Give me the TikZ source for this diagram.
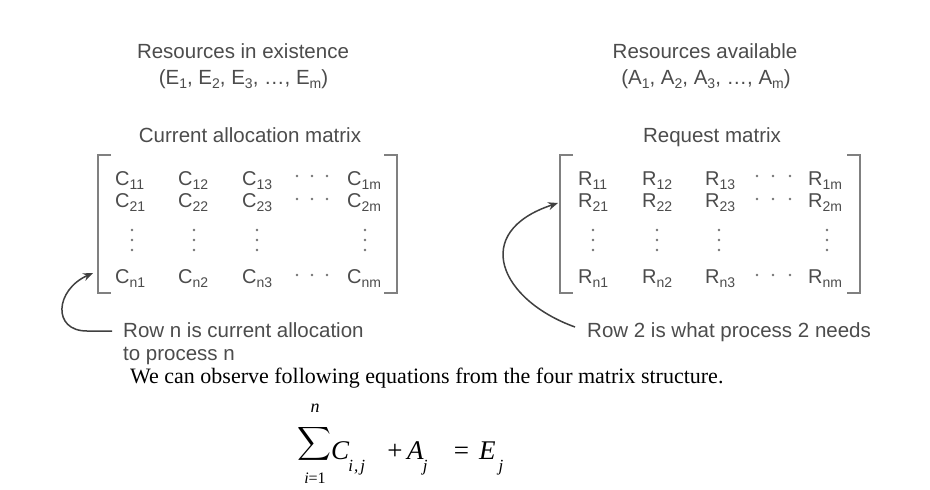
\documentclass[tikz,border=0pt]{standalone}
\usepackage{fontspec}
\usepackage{graphicx}
\setmainfont{Liberation Serif}
\newfontfamily\sansf{Liberation Sans}
\usetikzlibrary{arrows.meta}
\definecolor{txtgray}{gray}{0.30}
\newcommand{\lowsub}[1]{\raisebox{-4.5pt}{\fontsize{14}{14}\selectfont #1}}
\newcommand{\eqsub}[1]{\raisebox{-12pt}{\fontsize{17}{17}\selectfont\textit{#1}}}
\newcommand{\mentry}[4]{\node[ent] (#1) at (#2) {#3\lowsub{#4}};}
\begin{document}
\begin{tikzpicture}[x=1pt,y=-1pt,
  lbl/.style={font=\sansf\fontsize{20.5}{24}\selectfont, text=txtgray, inner sep=0},
  ent/.style={font=\sansf\fontsize{20}{22}\selectfont, text=txtgray, inner sep=0, anchor=base west},
  brk/.style={draw=black!50, line width=1.4pt},
  dotf/.style={fill=black!55},
  arr/.style={draw=black!75, line width=1.5pt, -{Stealth[length=10pt,width=8pt]}},
  eqt/.style={font=\fontsize{27}{29}\selectfont, inner sep=0, anchor=base west}]
\useasboundingbox (0,0) rectangle (930,490);
\fill[white] (0,0) rectangle (930,490);

% headings left
\node[lbl, anchor=base] (exist) at (243,58) {Resources in existence};
\node[lbl, anchor=base] (evec) at (243.5,84) {(E\lowsub{1}, E\lowsub{2}, E\lowsub{3}, \ldots, E\lowsub{m})};
\node[lbl, anchor=base] (cam) at (250,142) {Current allocation matrix};
% headings right
\node[lbl, anchor=base] (avail) at (705,58) {Resources available};
\node[lbl, anchor=base] (avec) at (706,84) {(A\lowsub{1}, A\lowsub{2}, A\lowsub{3}, \ldots, A\lowsub{m})};
\node[lbl, anchor=base] (req) at (712,142) {Request matrix};

% left matrix brackets
\draw[brk] (111,155) -- (98,155) -- (98,293) -- (111,293);
\draw[brk] (384,155) -- (397,155) -- (397,293) -- (384,293);
% right matrix brackets
\draw[brk] (573,155) -- (560,155) -- (560,293) -- (573,293);
\draw[brk] (847,155) -- (860,155) -- (860,293) -- (847,293);

% left matrix entries
\mentry{c11}{115,185}{C}{11}
\mentry{c12}{178,185}{C}{12}
\mentry{c13}{242,185}{C}{13}
\mentry{c1m}{347,185}{C}{1m}
\mentry{c21}{115,207}{C}{21}
\mentry{c22}{178,207}{C}{22}
\mentry{c23}{242,207}{C}{23}
\mentry{c2m}{347,207}{C}{2m}
\mentry{cn1}{115,283}{C}{n1}
\mentry{cn2}{178,283}{C}{n2}
\mentry{cn3}{242,283}{C}{n3}
\mentry{cnm}{347,283}{C}{nm}
% right matrix entries
\mentry{r11}{578,185}{R}{11}
\mentry{r12}{642,185}{R}{12}
\mentry{r13}{705,185}{R}{13}
\mentry{r1m}{808,185}{R}{1m}
\mentry{r21}{578,207}{R}{21}
\mentry{r22}{642,207}{R}{22}
\mentry{r23}{705,207}{R}{23}
\mentry{r2m}{808,207}{R}{2m}
\mentry{rn1}{578,283}{R}{n1}
\mentry{rn2}{642,283}{R}{n2}
\mentry{rn3}{705,283}{R}{n3}
\mentry{rnm}{808,283}{R}{nm}

% horizontal dots
\foreach \y in {176,199,275}{
  \foreach \x in {297,312,327}{\fill[dotf] (\x,\y) circle (1.3);}
  \foreach \x in {757,773,790}{\fill[dotf] (\x,\y) circle (1.3);}
}
% vertical dots
\foreach \y in {230,240,250}{
  \foreach \x in {132,194,257,365,593,657,719,827}{\fill[dotf] (\x,\y) circle (1.3);}
}

% captions
\node[lbl, anchor=base west] (rown) at (123,337) {Row n is current allocation};
\node[lbl, anchor=base west] (rown2) at (123,360) {to process n};
\node[lbl, anchor=base west] (row2) at (587,337) {Row 2 is what process 2 needs};

% arrows
\coordinate (lstart) at (112,331);
\coordinate (ltip) at (93,273);
\draw[arr] (lstart) -- (87,331) .. controls (52,331) and (55,290) .. (ltip);
\coordinate (rstart) at (575,327);
\coordinate (rtip) at (558,203);
\draw[arr] (rstart) .. controls (500,300) and (470,232) .. (rtip);

% sentence
\node[anchor=base west, inner sep=0, font=\fontsize{22}{24}\selectfont] (obs) at (130,383)
  {We can observe following equations from the four matrix structure.};

% equation
\node[inner sep=0, anchor=base] (sum) at (314,450) {\smash{\scalebox{2.35}{$\displaystyle\sum$}}};
\node[inner sep=0, anchor=base, font=\fontsize{18}{18}\selectfont] (up) at (315,412) {\textit{n}};
\node[inner sep=0, anchor=base, font=\fontsize{16}{16}\selectfont] (lo) at (315,483) {\textit{i}=1};
\node[eqt] (cij) at (331,459) {\textit{C}\eqsub{\hspace{-1pt}i\hspace{1pt},\hspace{2pt}j}};
\node[eqt, anchor=base] (plus) at (395,459) {+};
\node[eqt] (aj) at (407,459) {\textit{A}\eqsub{\hspace{-1pt}j}};
\node[eqt, anchor=base] (eq) at (461.5,459) {=};
\node[eqt] (ej) at (479,459) {\textit{E}\eqsub{\hspace{3pt}j}};
\end{tikzpicture}
\end{document}
